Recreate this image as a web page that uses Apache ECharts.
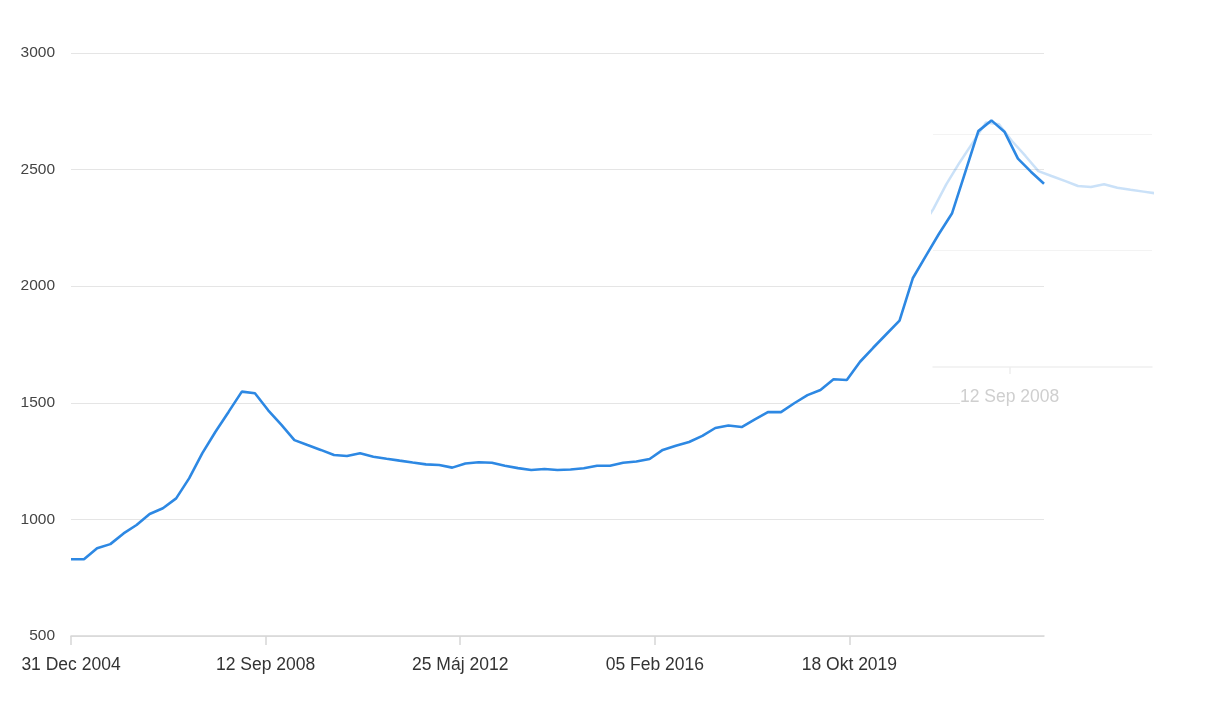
<!DOCTYPE html>
<html><head><meta charset="utf-8">
<script src="https://cdn.jsdelivr.net/npm/echarts@6/dist/echarts.min.js"></script>
<style>html,body{margin:0;padding:0;background:#fff}#c{width:1208px;height:714px}</style>
</head><body><div id="c"></div>
<script>
const quarterEnds = [
 '2004-12-31',
 '2005-03-31','2005-06-30','2005-09-30','2005-12-31',
 '2006-03-31','2006-06-30','2006-09-30','2006-12-31',
 '2007-03-31','2007-06-30','2007-09-30','2007-12-31',
 '2008-03-31','2008-06-30','2008-09-30','2008-12-31',
 '2009-03-31','2009-06-30','2009-09-30','2009-12-31',
 '2010-03-31','2010-06-30','2010-09-30','2010-12-31',
 '2011-03-31','2011-06-30','2011-09-30','2011-12-31',
 '2012-03-31','2012-06-30','2012-09-30','2012-12-31',
 '2013-03-31','2013-06-30','2013-09-30','2013-12-31',
 '2014-03-31','2014-06-30','2014-09-30','2014-12-31',
 '2015-03-31','2015-06-30','2015-09-30','2015-12-31',
 '2016-03-31','2016-06-30','2016-09-30','2016-12-31',
 '2017-03-31','2017-06-30','2017-09-30','2017-12-31',
 '2018-03-31','2018-06-30','2018-09-30','2018-12-31',
 '2019-03-31','2019-06-30','2019-09-30','2019-12-31',
 '2020-03-31','2020-06-30','2020-09-30','2020-12-31',
 '2021-03-31','2021-06-30','2021-09-30','2021-12-31',
 '2022-03-31','2022-06-30','2022-09-30','2022-12-31',
 '2023-03-31','2023-06-30'
];
const prices = [
 829,
 829, 876, 894, 940,
 976, 1023, 1048, 1090,
 1176, 1283, 1376, 1462,
 1548, 1541, 1468, 1405,
 1340, 1319, 1298, 1276,
 1272, 1284, 1269, 1260,
 1252, 1244, 1236, 1233,
 1222, 1240, 1245, 1243,
 1230, 1220, 1212, 1216,
 1212, 1214, 1219, 1230,
 1230, 1243, 1248, 1259,
 1298, 1316, 1332, 1358,
 1392, 1403, 1396, 1429,
 1460, 1460, 1498, 1533,
 1555, 1601, 1598, 1676,
 1736, 1794, 1852, 2034,
 2129, 2224, 2313, 2490,
 2665, 2711, 2661, 2547,
 2491, 2439
];
const yMin = 500, yMax = 3000, yStep = 500;
const monthNames = ['Jan','Feb','Mar','Apr','Máj','Jún','Júl','Aug','Sep','Okt','Nov','Dec'];

const BASE = Date.UTC(2004, 11, 31);
const DAY = 86400000;
function toDays(s){ const p = s.split('-'); return Math.round((Date.UTC(+p[0], +p[1]-1, +p[2]) - BASE) / DAY); }
function fmt(d){ const t = new Date(BASE + Math.round(d) * DAY); return String(t.getUTCDate()).padStart(2,'0') + ' ' + monthNames[t.getUTCMonth()] + ' ' + t.getUTCFullYear(); }
const points = quarterEnds.map((q, i) => [toDays(q), prices[i]]);
const span = toDays(quarterEnds[quarterEnds.length - 1]);
const step = span / 5;

const FONT = '"Liberation Sans", Arial, sans-serif';
const chart = echarts.init(document.getElementById('c'), null, {renderer: 'canvas'});
chart.setOption({
  animation: false,
  backgroundColor: '#fff',
  grid: [
    {left: 71, right: 164, top: 53, bottom: 78},
    {left: 933, width: 219, top: 87.16, height: 279.84}
  ],
  xAxis: [
    {
      type: 'value', gridIndex: 0, min: 0, max: span, interval: step,
      splitLine: {show: false},
      axisLine: {show: true, lineStyle: {color: '#d6d6d6', width: 1.5}},
      axisTick: {show: true, length: 9, lineStyle: {color: '#d6d6d6', width: 1.5}},
      axisLabel: {showMaxLabel: false, formatter: fmt, color: '#333', fontSize: 17.5, fontFamily: FONT, margin: 20}
    },
    {
      type: 'value', gridIndex: 1, min: 819, max: 2340, z: 5,
      splitLine: {show: false},
      axisLine: {show: true, lineStyle: {color: '#f0f0f0', width: 1.5}},
      axisTick: {show: true, customValues: [step], length: 7, lineStyle: {color: '#eeeeee', width: 1.5}},
      axisLabel: {customValues: [step], formatter: fmt, color: '#cfcfcf', fontSize: 17.5, fontFamily: FONT, margin: 19,
                  backgroundColor: '#fff', padding: [2, 0, 2, 0]}
    }
  ],
  yAxis: [
    {
      type: 'value', gridIndex: 0, min: yMin, max: yMax, interval: yStep,
      axisLine: {show: false}, axisTick: {show: false},
      splitLine: {show: true, lineStyle: {color: '#e5e5e5', width: 1.2}},
      axisLabel: {formatter: v => String(v), color: '#444', fontSize: 15.5, fontFamily: FONT, margin: 16}
    },
    {
      type: 'value', gridIndex: 1, min: yMin, max: 1700, interval: yStep,
      axisLine: {show: false}, axisTick: {show: false}, axisLabel: {show: false},
      splitLine: {show: true, showMaxLine: false, showMinLine: false, lineStyle: {color: '#f3f3f3', width: 1.2}}
    }
  ],
  series: [
    {
      type: 'line', xAxisIndex: 1, yAxisIndex: 1, data: points, z: 2,
      showSymbol: false, symbol: 'none', silent: true,
      lineStyle: {color: '#2d88e3', width: 2.5, opacity: 0.25}
    },
    {
      type: 'line', xAxisIndex: 0, yAxisIndex: 0, data: points, z: 3,
      showSymbol: false, symbol: 'none',
      lineStyle: {color: '#2d88e3', width: 2.6}
    }
  ]
});
</script>
</body></html>
